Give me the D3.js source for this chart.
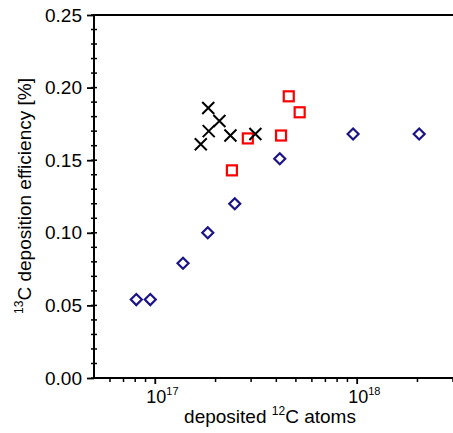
<!DOCTYPE html>
<html><head><meta charset="utf-8">
<script src="https://cdn.jsdelivr.net/npm/d3@7"></script>
<style>body{margin:0;background:#fff}svg{display:block}</style>
</head><body>
<script>
// Data (x: deposited 12C atoms, y: 13C deposition efficiency [%])
const diamondX = [8.1e16, 9.5e16, 1.38e17, 1.83e17, 2.49e17, 4.16e17, 9.6e17, 2.04e18];
const diamondY = [0.054, 0.054, 0.079, 0.100, 0.120, 0.151, 0.168, 0.168];
const squareX = [2.41e17, 2.89e17, 4.22e17, 4.61e17, 5.22e17];
const squareY = [0.143, 0.165, 0.167, 0.194, 0.183];
const crossX = [1.69e17, 1.84e17, 1.85e17, 2.09e17, 2.37e17, 3.15e17];
const crossY = [0.161, 0.186, 0.170, 0.177, 0.167, 0.168];
const yTicks = [0, 0.05, 0.10, 0.15, 0.20, 0.25];
const xTicks = [1e17, 1e18];
const xTickExp = ["17", "18"];

const W = 453, H = 433;
const svg = d3.select("body").append("svg").attr("width", W).attr("height", H);
const font = "'Liberation Sans', Arial, sans-serif";

const x = d3.scaleLog().domain([5e16, 3e18]).range([94, 453]);
const y = d3.scaleLinear().domain([0, 0.25]).range([378, 15]);

// minor y ticks (crossing)
const yMinor = d3.range(0, 0.2501, 0.01).map(v => +v.toFixed(2));
svg.append("g").selectAll("line").data(yMinor).join("line")
  .attr("x1", 91).attr("x2", 97)
  .attr("y1", d => y(d)).attr("y2", d => y(d))
  .attr("stroke", "#000").attr("stroke-width", 1.5);

// major y axis
const gy = svg.append("g").attr("transform", "translate(94,0)")
  .call(d3.axisLeft(y).tickValues(yTicks).tickSize(7).tickPadding(5).tickFormat(d3.format(".2f")));
gy.select(".domain").remove();
gy.selectAll(".tick line").attr("stroke-width", 1.8);
gy.selectAll(".tick text").attr("font-family", font).attr("font-size", 19).attr("fill", "#000");

// minor x ticks
const xMinor = [];
[1e16, 1e17, 1e18].forEach(b => { for (let k = 2; k <= 9; k++) { const v = k * b; if (v > 5e16 && v <= 3e18) xMinor.push(v); } });
svg.append("g").selectAll("line").data(xMinor).join("line")
  .attr("x1", d => x(d)).attr("x2", d => x(d))
  .attr("y1", 378).attr("y2", 382)
  .attr("stroke", "#000").attr("stroke-width", 1.5);

// major x ticks
const gx = svg.append("g").attr("transform", "translate(0,378)")
  .call(d3.axisBottom(x).tickValues(xTicks).tickSize(6).tickFormat(""));
gx.select(".domain").remove();
gx.selectAll(".tick line").attr("stroke-width", 1.8);
gx.selectAll(".tick").append("text")
  .attr("y", 25).attr("text-anchor", "start").attr("x", -9)
  .attr("font-family", font).attr("font-size", 18).attr("fill", "#000")
  .each(function(d, i) {
    const t = d3.select(this);
    t.append("tspan").text("10");
    t.append("tspan").attr("dy", -8).attr("font-size", 11).text(xTickExp[i]);
  });

// spines
svg.append("line").attr("x1", 94).attr("x2", 94).attr("y1", 14).attr("y2", 379).attr("stroke", "#000").attr("stroke-width", 2);
svg.append("line").attr("x1", 93).attr("x2", 453).attr("y1", 378).attr("y2", 378).attr("stroke", "#000").attr("stroke-width", 2);
svg.append("line").attr("x1", 93).attr("x2", 453).attr("y1", 15).attr("y2", 15).attr("stroke", "#000").attr("stroke-width", 2);

// axis titles
const xt = svg.append("text").attr("x", 270).attr("y", 423).attr("text-anchor", "middle")
  .attr("font-family", font).attr("font-size", 19).attr("fill", "#000");
xt.append("tspan").text("deposited ");
xt.append("tspan").attr("dy", -8).attr("font-size", 12).text("12");
xt.append("tspan").attr("dy", 8).text("C atoms");

const yt = svg.append("text").attr("transform", "translate(31,196) rotate(-90)").attr("text-anchor", "middle")
  .attr("font-family", font).attr("font-size", 19).attr("fill", "#000");
yt.append("tspan").attr("dy", -8).attr("font-size", 12).text("13");
yt.append("tspan").attr("dy", 8).text("C deposition efficiency [%]");

// markers
const diamonds = diamondX.map((v, i) => [v, diamondY[i]]);
const squares = squareX.map((v, i) => [v, squareY[i]]);
const crosses = crossX.map((v, i) => [v, crossY[i]]);

svg.append("g").selectAll("path").data(diamonds).join("path")
  .attr("transform", d => `translate(${x(d[0])},${y(d[1])})`)
  .attr("d", "M0,-5.5L5.5,0L0,5.5L-5.5,0Z")
  .attr("fill", "none").attr("stroke", "#1a1488").attr("stroke-width", 2.2);

svg.append("g").selectAll("rect").data(squares).join("rect")
  .attr("x", d => x(d[0]) - 5).attr("y", d => y(d[1]) - 5)
  .attr("width", 10).attr("height", 10)
  .attr("fill", "none").attr("stroke", "#ff0000").attr("stroke-width", 2.2);

svg.append("g").selectAll("path").data(crosses).join("path")
  .attr("transform", d => `translate(${x(d[0])},${y(d[1])})`)
  .attr("d", "M-6,-6L6,6M-6,6L6,-6")
  .attr("fill", "none").attr("stroke", "#000").attr("stroke-width", 2);
</script>
</body></html>
